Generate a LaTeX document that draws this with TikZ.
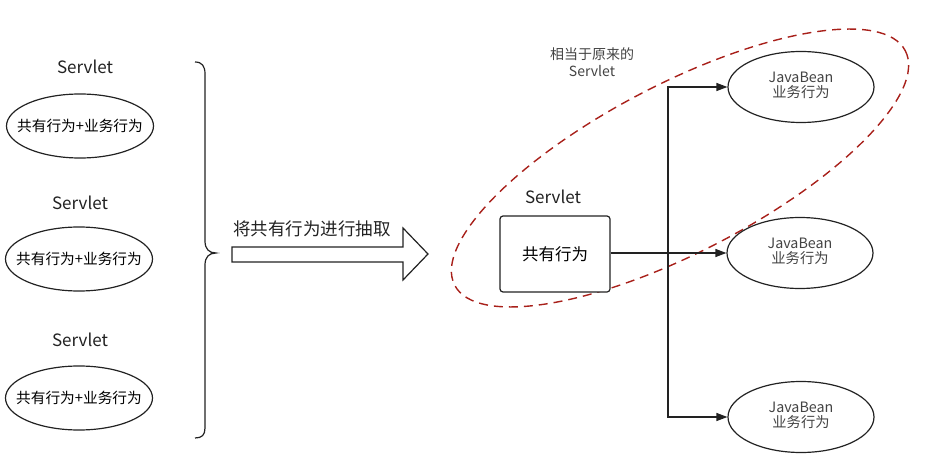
\documentclass[tikz,border=0pt]{standalone}
\usepackage{fontspec}
\setmainfont{Noto Sans CJK SC}
\usetikzlibrary{shapes.geometric,arrows.meta}
\definecolor{ink}{HTML}{222222}
\definecolor{dashred}{HTML}{A8201A}
\newcommand{\fixw}[1]{\makebox[0pt]{#1}}
\newcommand{\twolines}[2]{\makebox[0pt]{\begin{tabular}{@{}c@{}}#1\\[-2pt]#2\end{tabular}}}
\tikzset{
  oval/.style={draw=ink, line width=1.2pt, ellipse, inner sep=0pt},
  leftoval/.style={oval, minimum width=147, minimum height=64, font=\fontsize{14.7}{16}\selectfont},
  beanoval/.style={oval, minimum width=146, minimum height=71, font=\fontsize{14.3}{17}\selectfont, text=ink!85},
  title/.style={font=\fontsize{17}{20}\selectfont, text=ink},
  arr/.style={draw=ink, line width=1.2pt, -{Triangle[length=11pt,width=8pt]}},
}
\begin{document}
\begin{tikzpicture}[x=1pt,y=-1pt]
\useasboundingbox (0,0) rectangle (927,468);
% left side
\node[title] (s1) at (85,67) {Servlet};
\node[leftoval] (e1) at (80,126) {\fixw{共有行为+业务行为}};
\node[title] (s2) at (80,203) {Servlet};
\node[leftoval] (e2) at (79,259) {\fixw{共有行为+业务行为}};
\node[title] (s3) at (80,340) {Servlet};
\node[leftoval] (e3) at (79,398) {\fixw{共有行为+业务行为}};
% brace
\draw[ink, line width=1.2pt] (195,62) .. controls (202,62) and (205,66) .. (205,74) -- (205,241)
  .. controls (205,249) and (209,253) .. (216,253)
  .. controls (209,253) and (205,257) .. (205,265) -- (205,428)
  .. controls (205,435) and (202,438) .. (195,438);
% big arrow
\draw[ink, line width=1.2pt, fill=white] (232,247) -- (403,247) -- (403,228) -- (428,254) -- (403,280) -- (403,262) -- (232,262) -- cycle;
\node[font=\fontsize{17.5}{19}\selectfont, text=ink] (lab) at (312,229) {将共有行为进行抽取};
% dashed ellipse
\draw[dashred, line width=1.4pt, dash pattern=on 9pt off 6pt, shift={(680,168)}, rotate=27.5] (0,0) ellipse [x radius=254, y radius=84];
\node[font=\fontsize{14}{17}\selectfont, text=ink!85, align=center] (note) at (592,62) {相当于原来的\\Servlet};
% right side
\node[title] (s4) at (553,197) {Servlet};
\node[draw=ink, line width=1.2pt, rounded corners=3pt, fill=white, minimum width=110, minimum height=76, font=\fontsize{16.5}{18}\selectfont] (box) at (555,254) {共有行为};
\node[beanoval] (j1) at (801,87) {\twolines{JavaBean}{业务行为}};
\node[beanoval] (j2) at (800,253) {\twolines{JavaBean}{业务行为}};
\node[beanoval] (j3) at (801,417) {\twolines{JavaBean}{业务行为}};
\coordinate (bus) at (668,254);
\draw[arr] (box.east |- j2.west) -- (j2.west);
\draw[arr] (bus) |- (j1.west);
\draw[arr] (bus) |- (j3.west);
\end{tikzpicture}
\end{document}
